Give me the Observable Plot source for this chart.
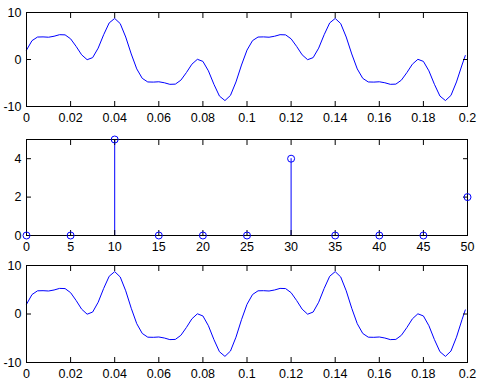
<!DOCTYPE html>
<html>
<head>
<meta charset="utf-8">
<script src="https://cdn.jsdelivr.net/npm/d3@7"></script>
<script src="https://cdn.jsdelivr.net/npm/@observablehq/plot@0.6"></script>
<style>
  html, body { margin: 0; padding: 0; background: #ffffff; }
  #chart { width: 485px; height: 389px; background: #ffffff; }
  #chart svg { display: block; }
</style>
</head>
<body>
<div id="chart"></div>
<script>
// ---- data ----
// signal samples every 0.0025 s (0 .. 0.1975) plus the last sample at 0.199
const signalValues = [
  2.00, 4.01, 4.78, 4.81, 4.74, 4.95, 5.28, 5.24, 4.40, 2.79,
  1.00, -0.04, 0.40, 2.42, 5.28, 7.78, 8.74, 7.64, 4.78, 1.18,
  -2.00, -4.01, -4.78, -4.81, -4.74, -4.95, -5.28, -5.24, -4.40, -2.79,
  -1.00, 0.04, -0.40, -2.42, -5.28, -7.78, -8.74, -7.64, -4.78, -1.18,
  2.00, 4.01, 4.78, 4.81, 4.74, 4.95, 5.28, 5.24, 4.40, 2.79,
  1.00, -0.04, 0.40, 2.42, 5.28, 7.78, 8.74, 7.64, 4.78, 1.18,
  -2.00, -4.01, -4.78, -4.81, -4.74, -4.95, -5.28, -5.24, -4.40, -2.79,
  -1.00, 0.04, -0.40, -2.42, -5.28, -7.78, -8.74, -7.64, -4.78, -1.18,
  0.84
];
const sampleStep = 0.0025;
const lastSampleTime = 0.199;

// reconstructed signal (bottom panel): same shape
const reconValues = signalValues.slice();

// spectrum stems
const frequencies = [0, 5, 10, 15, 20, 25, 30, 35, 40, 45, 50];
const magnitudes  = [0, 0, 5, 0, 0, 0, 4, 0, 0, 0, 2];

// ticks and labels
const timeTicks = [0, 0.02, 0.04, 0.06, 0.08, 0.1, 0.12, 0.14, 0.16, 0.18, 0.2];
const timeTickLabels = ["0", "0.02", "0.04", "0.06", "0.08", "0.1", "0.12", "0.14", "0.16", "0.18", "0.2"];
const signalTicks = [-10, 0, 10];
const signalTickLabels = ["-10", "0", "10"];
const freqTicks = [0, 5, 10, 15, 20, 25, 30, 35, 40, 45, 50];
const freqTickLabels = ["0", "5", "10", "15", "20", "25", "30", "35", "40", "45", "50"];
const magTicks = [0, 2, 4];
const magTickLabels = ["0", "2", "4"];

// ---- build tables ----
function timeOf(i, n) { return i === n - 1 ? lastSampleTime : i * sampleStep; }
const signalTable = signalValues.map((v, i) => ({t: timeOf(i, signalValues.length), v}));
const reconTable = reconValues.map((v, i) => ({t: timeOf(i, reconValues.length), v}));
const stemTable = frequencies.map((f, i) => ({f, a: magnitudes[i]}));

const BLUE = "#0000ff";
const FONT = {fontFamily: "'Liberation Sans', Arial, Helvetica, sans-serif", fontSize: "12.5px", background: "#ffffff", color: "#000000", overflow: "visible"};

function lookup(ticks, labels) {
  return d => { const i = ticks.findIndex(t => Math.abs(t - d) < 1e-9); return i >= 0 ? labels[i] : ""; };
}

function axes(xTicks, xLabels, yTicks, yLabels) {
  return [
    Plot.axisX({ticks: xTicks, tickFormat: lookup(xTicks, xLabels), tickSize: -5, tickPadding: 12, label: null}),
    Plot.axisX({anchor: "top", ticks: xTicks, tickFormat: () => "", tickSize: -5, label: null}),
    Plot.axisY({ticks: yTicks, tickFormat: lookup(yTicks, yLabels), tickSize: -5, tickPadding: 10, label: null}),
    Plot.axisY({anchor: "right", ticks: yTicks, tickFormat: () => "", tickSize: -5, label: null}),
    Plot.frame({stroke: "#000000"})
  ];
}

const linePanel = (table, height, mt, mb) => Plot.plot({
  width: 485, height,
  marginLeft: 26, marginRight: 18, marginTop: mt, marginBottom: mb,
  style: FONT,
  x: {domain: [0, 0.2], label: null},
  y: {domain: [-10, 10], label: null},
  marks: [
    Plot.line(table, {x: "t", y: "v", stroke: BLUE, strokeWidth: 1}),
    ...axes(timeTicks, timeTickLabels, signalTicks, signalTickLabels)
  ]
});

const stemPanel = Plot.plot({
  width: 485, height: 125,
  marginLeft: 26, marginRight: 18, marginTop: 14, marginBottom: 15,
  style: FONT,
  x: {domain: [0, 50], label: null},
  y: {domain: [0, 5], label: null},
  marks: [
    Plot.ruleX(stemTable, {x: "f", y1: 0, y2: "a", stroke: BLUE, strokeWidth: 1}),
    ...axes(freqTicks, freqTickLabels, magTicks, magTickLabels),
    Plot.dot(stemTable, {x: "f", y: "a", r: 3.5, stroke: BLUE, fill: "none", strokeWidth: 1})
  ]
});

const chart = document.getElementById("chart");
chart.appendChild(linePanel(signalTable, 125, 12, 19));
chart.appendChild(stemPanel);
chart.appendChild(linePanel(reconTable, 139, 15, 27));
</script>
</body>
</html>
